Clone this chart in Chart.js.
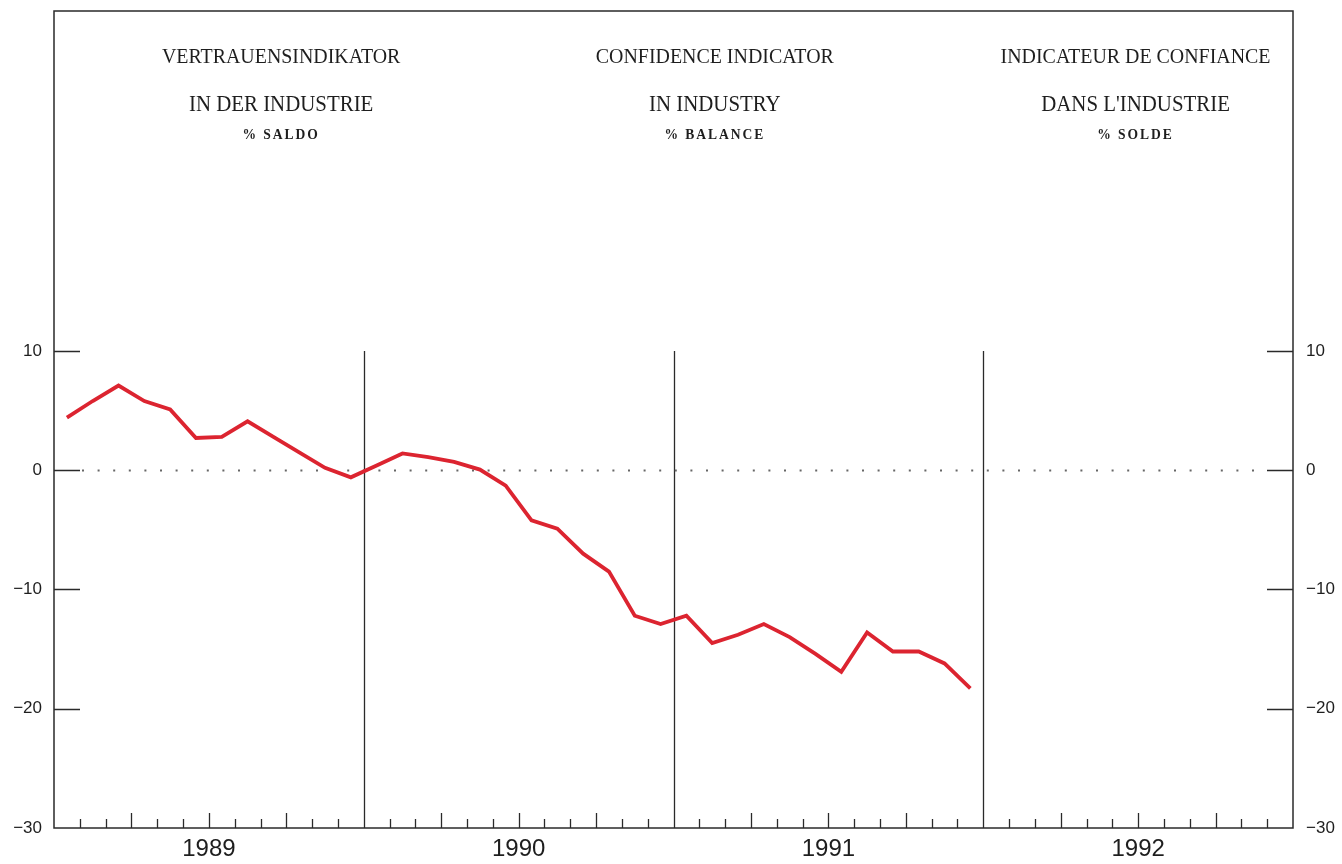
<!DOCTYPE html>
<html>
<head>
<meta charset="utf-8">
<script src="https://cdn.jsdelivr.net/npm/chart.js@4"></script>
<style>
  html, body { margin: 0; padding: 0; background: #ffffff; }
  #wrap { width: 1342px; height: 864px; }
</style>
</head>
<body>
<div id="wrap"><canvas id="c" width="1342" height="864"></canvas></div>
<script>
// ---- data ----
const years = ['1989', '1990', '1991', '1992'];
const months = [
  '1989-01','1989-02','1989-03','1989-04','1989-05','1989-06','1989-07','1989-08','1989-09','1989-10','1989-11','1989-12',
  '1990-01','1990-02','1990-03','1990-04','1990-05','1990-06','1990-07','1990-08','1990-09','1990-10','1990-11','1990-12',
  '1991-01','1991-02','1991-03','1991-04','1991-05','1991-06','1991-07','1991-08','1991-09','1991-10','1991-11','1991-12'
];
const confidence = [
  4.4, 5.8, 7.1, 5.8, 5.1, 2.7, 2.8, 4.1, 2.8, 1.5, 0.2, -0.6,
  0.4, 1.4, 1.1, 0.7, 0.05, -1.3, -4.2, -4.9, -7.0, -8.5, -12.2, -12.9,
  -12.2, -14.5, -13.8, -12.9, -14.0, -15.4, -16.9, -13.6, -15.2, -15.2, -16.2, -18.3
];
const yTicks = [-30, -20, -10, 0, 10];
const titleCols = [
  { at: 8.8,  lines: ['VERTRAUENSINDIKATOR', 'IN DER INDUSTRIE', '% SALDO'] },
  { at: 25.6, lines: ['CONFIDENCE INDICATOR', 'IN INDUSTRY', '% BALANCE'] },
  { at: 41.9, lines: ['INDICATEUR DE CONFIANCE', "DANS L'INDUSTRIE", '% SOLDE'] }
];
const MONTHS_TOTAL = years.length * 12;

const points = confidence.map((v, i) => ({ x: i + 0.5, y: v }));

const frameColor = '#2a2a2a';

const decor = {
  id: 'decor',
  beforeDatasetsDraw(chart) {
    const ctx = chart.ctx;
    const xs = chart.scales.x, ys = chart.scales.y;
    const a = chart.chartArea;
    ctx.save();
    // frame
    ctx.strokeStyle = frameColor;
    ctx.lineWidth = 1.5;
    ctx.strokeRect(a.left, a.top, a.right - a.left, a.bottom - a.top);
    // y ticks inside on both sides
    yTicks.forEach(v => {
      if (v === yTicks[0]) return;
      const py = Math.round(ys.getPixelForValue(v)) + 0.5;
      ctx.beginPath();
      ctx.moveTo(a.left, py); ctx.lineTo(a.left + 26, py);
      ctx.moveTo(a.right, py); ctx.lineTo(a.right - 26, py);
      ctx.stroke();
    });
    // month ticks on bottom
    ctx.lineWidth = 1.3;
    for (let m = 1; m < MONTHS_TOTAL; m++) {
      const px = Math.round(xs.getPixelForValue(m)) + 0.5;
      ctx.beginPath();
      if (m % 12 === 0) {
        ctx.moveTo(px, a.bottom);
        ctx.lineTo(px, ys.getPixelForValue(yTicks[yTicks.length - 1]));
      } else {
        const len = (m % 3 === 0) ? 15 : 9;
        ctx.moveTo(px, a.bottom);
        ctx.lineTo(px, a.bottom - len);
      }
      ctx.stroke();
    }
    // dotted zero line
    const z = Math.round(ys.getPixelForValue(0)) + 0.5;
    ctx.strokeStyle = '#666';
    ctx.lineWidth = 2;
    ctx.setLineDash([2, 13.6]);
    ctx.beginPath();
    ctx.moveTo(a.left + 28, z); ctx.lineTo(a.right - 28, z);
    ctx.stroke();
    ctx.setLineDash([]);
    // titles
    ctx.fillStyle = '#1e1e1e';
    ctx.textAlign = 'center';
    ctx.textBaseline = 'middle';
    titleCols.forEach(col => {
      const cx = xs.getPixelForValue(col.at);
      const drawScaled = (txt, font, y, sx, spacing) => {
        ctx.save();
        ctx.font = font;
        if (spacing) ctx.letterSpacing = spacing;
        ctx.translate(cx, y);
        ctx.scale(sx, 1);
        ctx.fillText(txt, 0, 0);
        ctx.restore();
      };
      drawScaled(col.lines[0], '22px "Liberation Serif"', a.top + 46, 0.905);
      drawScaled(col.lines[1], '24px "Liberation Serif"', a.top + 94, 0.87);
      drawScaled(col.lines[2], 'bold 14px "Liberation Serif"', a.top + 124, 0.97, '2px');
    });
    ctx.restore();
  }
};

const yTickOpts = (pad) => ({
  padding: pad, color: '#1e1e1e',
  font: { family: '"Liberation Sans", Arial, sans-serif', size: 17 },
  callback: v => (v < 0 ? '\u2212' + Math.abs(v) : String(v))
});

new Chart(document.getElementById('c'), {
  type: 'line',
  data: {
    datasets: [{
      data: points,
      borderColor: '#dc2430',
      borderWidth: 3.8,
      pointRadius: 0,
      tension: 0,
      fill: false
    }]
  },
  options: {
    responsive: false,
    devicePixelRatio: 1,
    animation: false,
    layout: { padding: { top: 11, left: 0, right: 0, bottom: 0 } },
    plugins: { legend: { display: false }, tooltip: { enabled: false } },
    scales: {
      x: {
        type: 'linear',
        min: 0, max: MONTHS_TOTAL,
        afterBuildTicks: s => { s.ticks = years.map((y, i) => ({ value: i * 12 + 6 })); },
        afterFit: s => { s.height = 36; s.paddingLeft = 0; s.paddingRight = 0; },
        grid: { display: false, drawTicks: false },
        border: { display: false },
        ticks: {
          autoSkip: false, maxRotation: 0, padding: 7,
          color: '#1e1e1e',
          font: { family: '"Liberation Sans", Arial, sans-serif', size: 24 },
          callback: v => years[Math.round((v - 6) / 12)]
        }
      },
      y: {
        type: 'linear', position: 'left',
        min: -30, max: 38.5,
        afterBuildTicks: s => { s.ticks = yTicks.map(v => ({ value: v })); },
        afterFit: s => { s.width = 54; s.paddingTop = 0; s.paddingBottom = 0; },
        grid: { display: false, drawTicks: false },
        border: { display: false },
        ticks: yTickOpts(12)
      },
      y2: {
        type: 'linear', position: 'right',
        min: -30, max: 38.5,
        afterBuildTicks: s => { s.ticks = yTicks.map(v => ({ value: v })); },
        afterFit: s => { s.width = 49; s.paddingTop = 0; s.paddingBottom = 0; },
        grid: { display: false, drawTicks: false },
        border: { display: false },
        ticks: yTickOpts(13)
      }
    }
  },
  plugins: [decor]
});
</script>
</body>
</html>
